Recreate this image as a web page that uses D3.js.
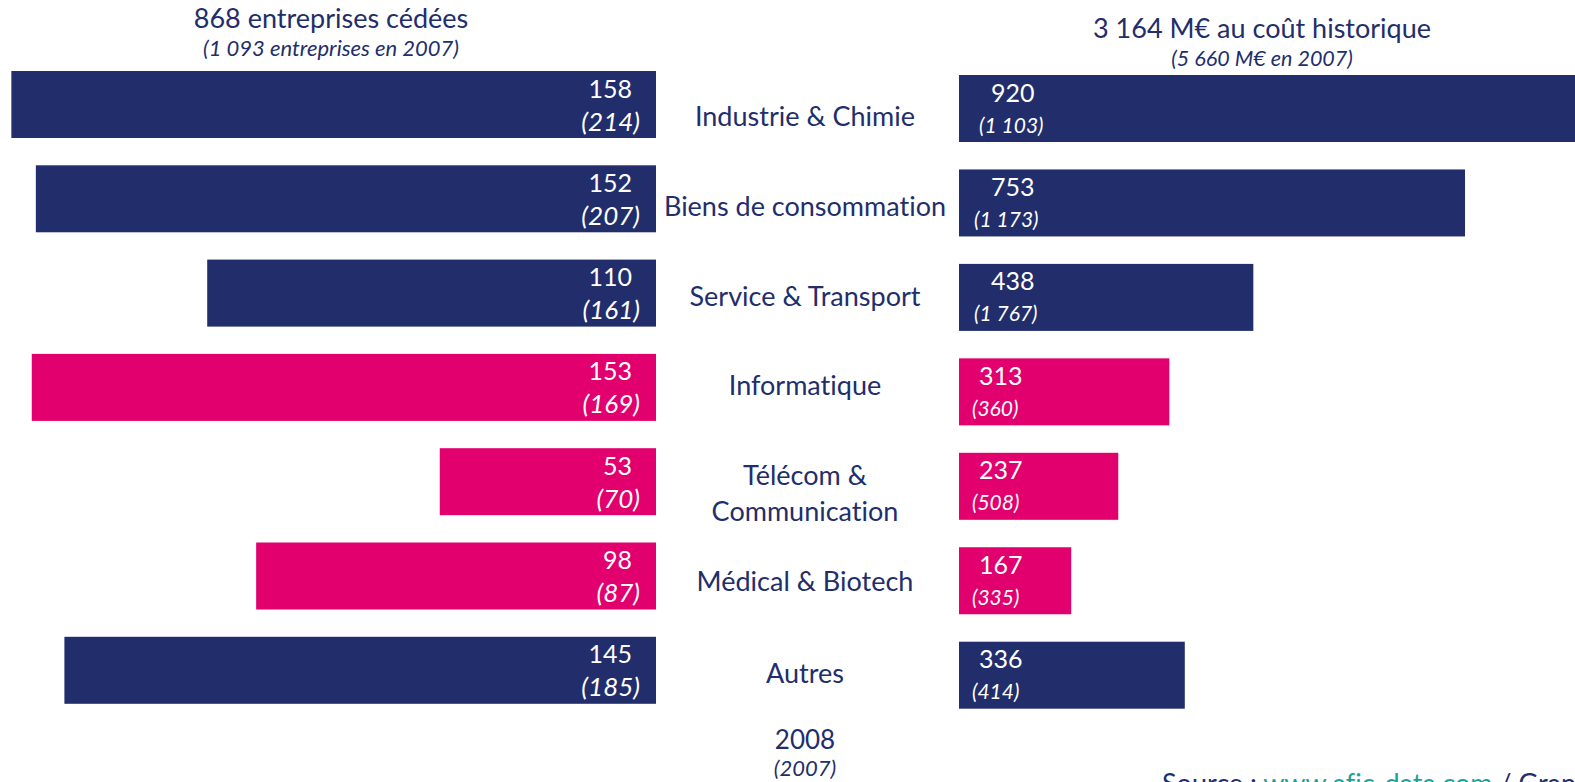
<!DOCTYPE html>
<html lang="fr">
<head>
<meta charset="utf-8">
<script src="https://cdn.jsdelivr.net/npm/d3@7/dist/d3.min.js"></script>
<style>
  html, body { margin: 0; padding: 0; background: #ffffff; overflow: hidden; }
  svg { display: block; font-family: Lato, "Open Sans", sans-serif; font-variant-ligatures: none; }
</style>
</head>
<body>
<svg id="chart" width="1575" height="782"></svg>
<script>
// Sectors (a "\n" splits a label over two lines)
const categories = [
  "Industrie & Chimie",
  "Biens de consommation",
  "Service & Transport",
  "Informatique",
  "Télécom &\nCommunication",
  "Médical & Biotech",
  "Autres"
];
// Number of companies sold: 2008, and 2007 in brackets
const count2008 = [158, 152, 110, 153, 53, 98, 145];
const count2007 = [214, 207, 161, 169, 70, 87, 185];
// Amounts at historical cost (M€): 2008, and 2007 in brackets
const amount2008 = [920, 753, 438, 313, 237, 167, 336];
const amount2007 = [1103, 1173, 1767, 360, 508, 335, 414];
// Sector family: traditional vs technology
const family = ["trad", "trad", "trad", "tech", "tech", "tech", "trad"];

const titleLeft = "868 entreprises cédées";
const subtitleLeft = "(1 093 entreprises en 2007)";
const titleRight = "3 164 M€ au coût historique";
const subtitleRight = "(5 660 M€ en 2007)";
const yearLabel = "2008";
const prevYearLabel = "(2007)";

const NAVY = "#222e6b";
const PINK = "#e1006e";
const TEAL = "#1aa39c";
const color = d3.scaleOrdinal(["trad", "tech"], [NAVY, PINK]);

const fr = d3.formatLocale({ decimal: ",", thousands: "\u00a0", grouping: [3], currency: ["", " €"] });
const fmt = fr.format(",d");

const svg = d3.select("#chart");

// Layout
const leftBase = 656;     // right edge of the left-hand bars
const rightBase = 959;    // left edge of the right-hand bars
const centerX = 805;      // sector label column
const barH = 67;

const xLeft = d3.scaleLinear().domain([0, 160]).range([leftBase, leftBase - 160 * 4.08]);
const xRight = d3.scaleLinear().domain([0, 1000]).range([rightBase, rightBase + 672]);

const stepL = 94.3, stepR = 94.45;
const yLeft = d3.scaleBand().domain(categories)
  .range([71, 71 + 6 * stepL + barH]).paddingInner(1 - barH / stepL).paddingOuter(0);
const yRight = d3.scaleBand().domain(categories)
  .range([75, 75 + 6 * stepR + barH]).paddingInner(1 - barH / stepR).paddingOuter(0);

const rows = categories.map((c, i) => ({
  cat: c, n08: count2008[i], n07: count2007[i],
  a08: amount2008[i], a07: amount2007[i], fam: family[i], i
}));

// Left bars: number of companies
const gL = svg.append("g");
gL.selectAll("rect").data(rows).join("rect")
  .attr("x", d => xLeft(d.n08))
  .attr("y", d => yLeft(d.cat))
  .attr("width", d => leftBase - xLeft(d.n08))
  .attr("height", yLeft.bandwidth())
  .attr("fill", d => color(d.fam));

gL.selectAll("text.v").data(rows).join("text").attr("class", "v")
  .attr("x", 632).attr("y", d => yLeft(d.cat) + 26.5)
  .attr("text-anchor", "end").attr("fill", "#fff")
  .style("font-size", "25px")
  .text(d => fmt(d.n08));
gL.selectAll("text.p").data(rows).join("text").attr("class", "p")
  .attr("x", 640).attr("y", d => yLeft(d.cat) + 59.5)
  .attr("text-anchor", "end").attr("fill", "#fff")
  .style("font-size", "26px").style("font-style", "italic")
  .text(d => "(" + fmt(d.n07) + ")");

// Right bars: amounts
const indentNum = [32, 32, 32, 20, 20, 20, 20];
const indentPrev = [20, 15, 15, 13, 13, 13, 13];
const gR = svg.append("g");
gR.selectAll("rect").data(rows).join("rect")
  .attr("x", rightBase)
  .attr("y", d => yRight(d.cat))
  .attr("width", d => xRight(d.a08) - rightBase)
  .attr("height", yRight.bandwidth())
  .attr("fill", d => color(d.fam));

gR.selectAll("text.v").data(rows).join("text").attr("class", "v")
  .attr("x", d => rightBase + indentNum[d.i]).attr("y", d => yRight(d.cat) + 26.5)
  .attr("fill", "#fff").style("font-size", "25px")
  .text(d => fmt(d.a08));
gR.selectAll("text.p").data(rows).join("text").attr("class", "p")
  .attr("x", d => rightBase + indentPrev[d.i]).attr("y", d => yRight(d.cat) + 57.5)
  .attr("fill", "#fff").style("font-size", "21px").style("font-style", "italic")
  .text(d => "(" + fmt(d.a07) + ")");

// Sector labels between the two bar groups
const labelNudge = [6, 2, -2.5, -7.5, 6, 0, -2.5];
const gC = svg.append("g").attr("fill", NAVY).style("font-size", "27px");
gC.selectAll("text").data(rows).join("text")
  .attr("text-anchor", "middle")
  .each(function (d) {
    const lines = d.cat.split("\n");
    const mid = (yLeft(d.cat) + yRight(d.cat)) / 2 + barH / 2;
    const lh = 36;
    const first = mid + 13 - (lines.length - 1) * lh / 2 + labelNudge[d.i];
    d3.select(this).selectAll("tspan").data(lines).join("tspan")
      .attr("x", centerX)
      .attr("y", (l, k) => first + k * lh)
      .text(l => l);
  });

// Titles
const titles = svg.append("g").attr("fill", NAVY).attr("text-anchor", "middle");
titles.append("text").attr("x", 331).attr("y", 28).style("font-size", "27px").text(titleLeft);
titles.append("text").attr("x", 331).attr("y", 56).style("font-size", "22px").style("font-style", "italic").text(subtitleLeft);
titles.append("text").attr("x", 1262).attr("y", 38).style("font-size", "27px").text(titleRight);
titles.append("text").attr("x", 1262).attr("y", 66).style("font-size", "21.5px").style("font-style", "italic").text(subtitleRight);

// Year legend under the sector column
titles.append("text").attr("x", centerX).attr("y", 749).style("font-size", "26px").text(yearLabel);
titles.append("text").attr("x", centerX).attr("y", 776).style("font-size", "22px").style("font-style", "italic").text(prevYearLabel);

// Source line
const src = svg.append("text").attr("x", 1162).attr("y", 793).attr("fill", NAVY).style("font-size", "27px");
src.append("tspan").text("Source : ");
src.append("tspan").attr("fill", TEAL).text("www.afic-data.com");
src.append("tspan").text(" / Grant Thornton");
</script>
</body>
</html>
